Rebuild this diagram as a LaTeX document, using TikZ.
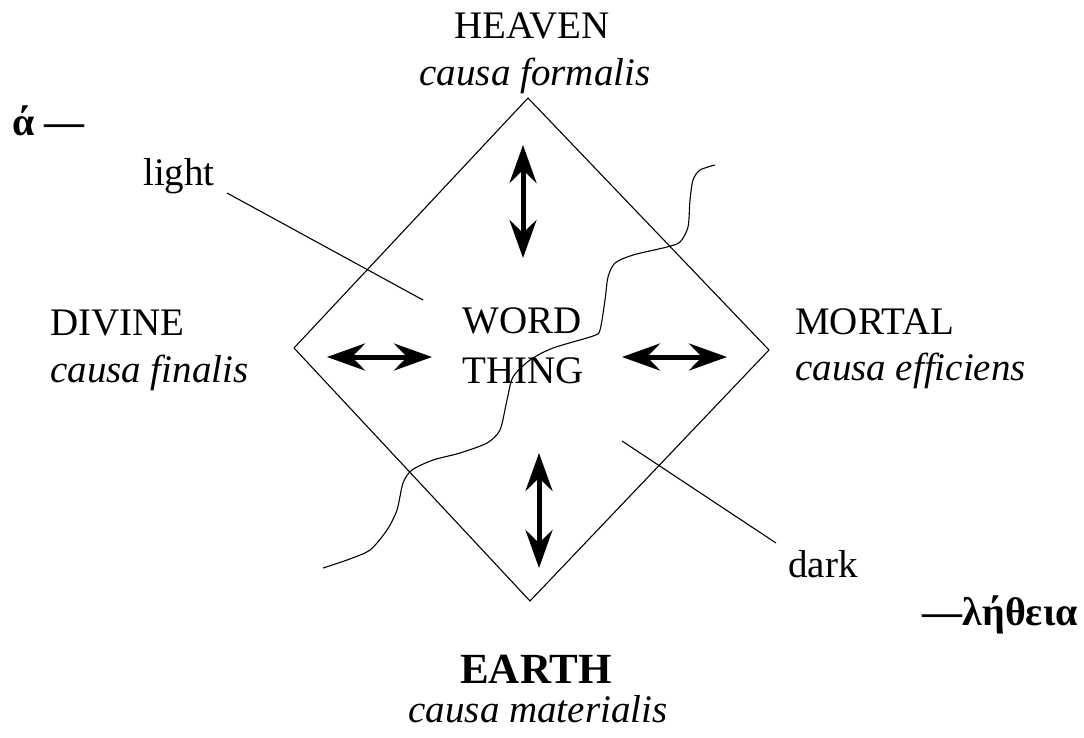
\documentclass[tikz,border=0pt]{standalone}
\usepackage{fontspec}
\setmainfont{Liberation Serif}
\usetikzlibrary{arrows.meta}
\begin{document}
\begin{tikzpicture}[x=1pt,y=-1pt,
  txt/.style={inner sep=0pt, font=\fontsize{39}{44}\selectfont},
  itxt/.style={inner sep=0pt, font=\fontsize{39}{44}\selectfont\itshape},
  btxt/.style={inner sep=0pt, font=\fontsize{43}{48}\selectfont\bfseries},
  gtxt/.style={inner sep=0pt, font=\fontsize{40}{46}\selectfont\bfseries},
  thinline/.style={line width=1.1pt, line join=round},
  dbl/.style={line width=5pt, {Stealth[length=38pt,width=27pt,inset=13pt]}-{Stealth[length=38pt,width=27pt,inset=13pt]}},
]
\useasboundingbox (0,0) rectangle (1084,737);

% diamond
\coordinate (T) at (528,98);
\coordinate (R) at (769,350);
\coordinate (B) at (530,601);
\coordinate (L) at (294,348);
\draw[thinline] (T) -- (R) -- (B) -- (L) -- cycle;

% labels
\node[txt, anchor=base] (heaven) at (532,38) {HEAVEN};
\node[itxt, anchor=base] (formalis) at (535,85) {causa formalis};
\node[txt, anchor=base west] (divine) at (50,335) {DIVINE};
\node[itxt, anchor=base west] (finalis) at (50,382) {causa finalis};
\node[txt, anchor=base west] (mortal) at (795,334) {MORTAL};
\node[itxt, anchor=base west] (efficiens) at (795,380) {causa efficiens};
\node[btxt, anchor=base] (earth) at (536,683) {EARTH};
\node[itxt, anchor=base] (materialis) at (538,722) {causa materialis};
\node[txt, anchor=base west] (word) at (462,333) {WORD};
\node[txt, anchor=base west] (thing) at (462,383) {THING};
\node[txt, anchor=base west] (light) at (143,185) {light};
\node[txt, anchor=base west] (dark) at (788,577) {dark};
\node[gtxt, anchor=base west] (alpha) at (12,135) {ά —};
\node[gtxt, anchor=base east] (letheia) at (1078,625) {—λήθεια};

% double arrows
\coordinate (ua) at (523,145);
\coordinate (ub) at (523,258);
\coordinate (da) at (539,453);
\coordinate (db) at (539,568);
\coordinate (la) at (327,357);
\coordinate (lb) at (432,357);
\coordinate (ra) at (622,357);
\coordinate (rb) at (727,357);
\draw[dbl] (ua) -- (ub);
\draw[dbl] (da) -- (db);
\draw[dbl] (la) -- (lb);
\draw[dbl] (ra) -- (rb);

% light / dark pointers
\coordinate (lightS) at (227,193);
\coordinate (lightE) at (423,300);
\coordinate (darkS) at (622,441);
\coordinate (darkE) at (776,543);
\draw[thinline] (lightS) -- (lightE);
\draw[thinline] (darkS) -- (darkE);

% wavy boundary
\draw[thinline] plot[smooth, tension=0.45] coordinates {
 (715,165) (700,170) (693,180) (690,200) (688,227) (680,242) (667,247)
 (633,255) (615,263) (608,277) (605,300) (600,330) (593,336) (553,348)
 (530,360) (513,377) (507,400) (500,430) (487,443) (460,453) (433,460)
 (412,470) (403,483) (397,510) (387,530) (370,550) (347,560) (323,568)};
\end{tikzpicture}
\end{document}
